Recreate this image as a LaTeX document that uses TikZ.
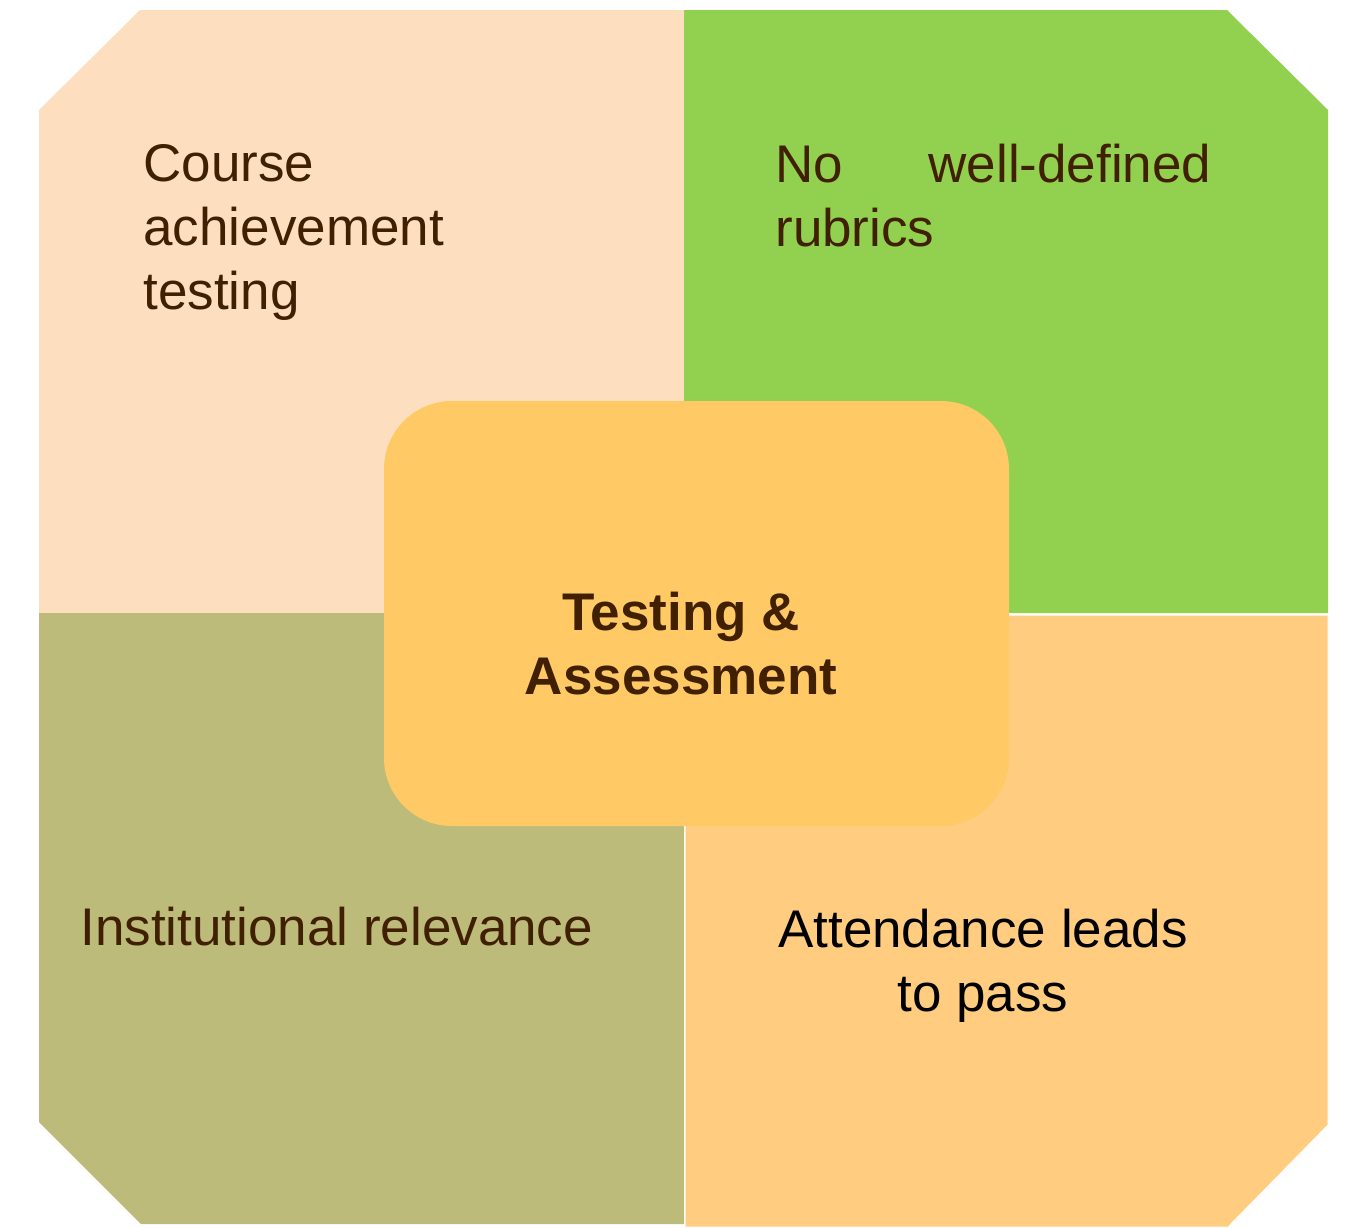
\documentclass[tikz,border=0pt]{standalone}
\usepackage{fontspec}
\setmainfont{Liberation Sans}
\definecolor{peach}{HTML}{FDDFBF}
\definecolor{leaf}{HTML}{92D050}
\definecolor{olive}{HTML}{BCBB7A}
\definecolor{apricot}{HTML}{FFCC80}
\definecolor{hubfill}{HTML}{FFCA66}
\definecolor{brownink}{HTML}{402000}
\tikzset{quadtext/.style = {font=\fontsize{26.5}{32}\selectfont, text=brownink, inner sep=0pt}}
\tikzset{hub/.style = {fill=hubfill, rounded corners=34pt, minimum width=312.5pt, minimum height=212.5pt, inner sep=0pt}}

\begin{document}
\begin{tikzpicture}[x=0.5pt, y=-0.5pt]
          \useasboundingbox (0,0) rectangle (1349,1227);
          % four quadrants
          \fill[peach] (39,110) -- (140,10) -- (684,10) -- (684,613) -- (39,613) -- cycle;
          \fill[leaf] (684,10) -- (1227,10) -- (1328,110) -- (1328,613) -- (684,613) -- cycle;
          \fill[olive] (39,613) -- (684,613) -- (684,1224) -- (141,1224) -- (39,1122) -- cycle;
          \filldraw[apricot, draw=white, line width=0.5pt] (685,615) -- (1328,615) -- (1328,1125) -- (1228,1227) -- (685,1227) -- cycle;

          \node[hub] (Hub) at (696.5, 613.5) {};
          \node[quadtext, font=\fontsize{26.5}{32}\selectfont\bfseries, align=center, anchor=base] (HubText) at (681, 694) {Testing \&\\Assessment};

          \node[quadtext, align=left, anchor=base west] (Course) at (143, 309) {Course\\achievement\\testing};
          \node[quadtext, align=left, text width=218pt, anchor=base west] (Rubrics) at (775, 182) {No\hfill well-defined\\rubrics};
          \node[quadtext, anchor=base west] (Institution) at (80, 945) {Institutional relevance};
          \node[quadtext, text=black, align=center, anchor=base] (Attendance) at (983, 1011) {Attendance leads\\to pass};
        \end{tikzpicture}
\end{document}
